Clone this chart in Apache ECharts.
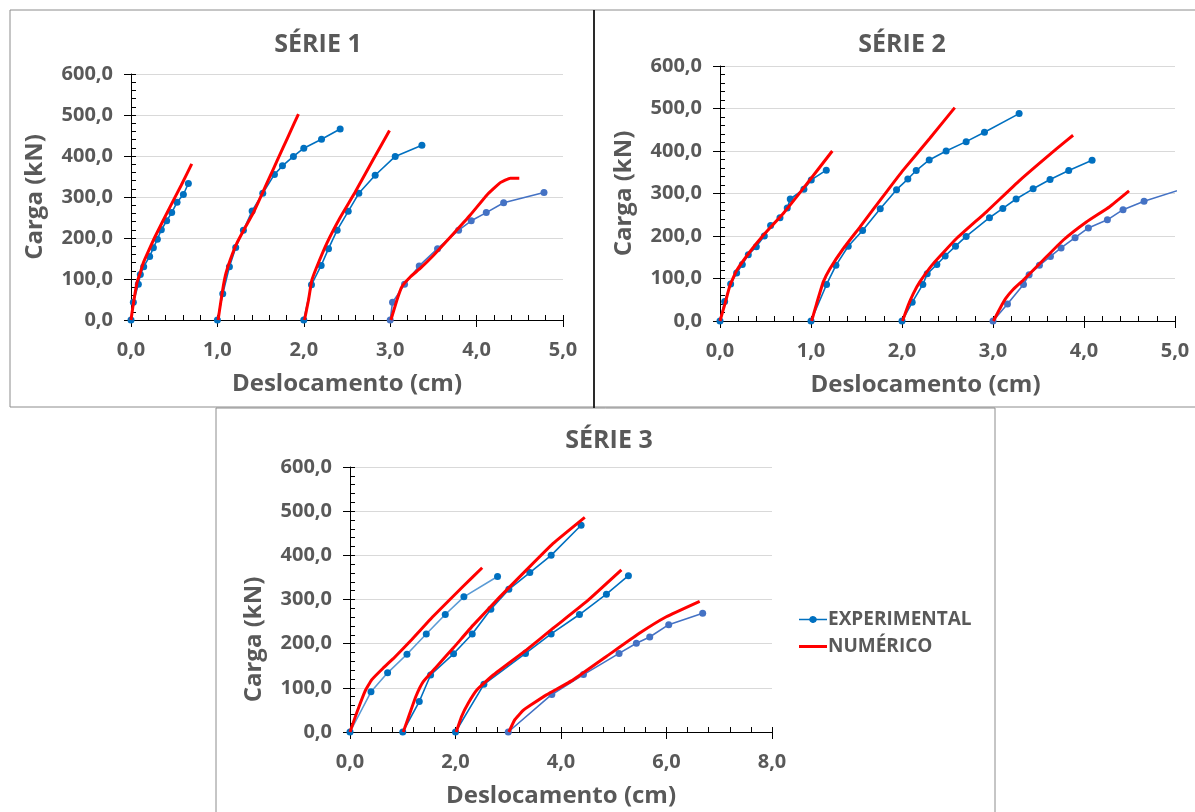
<!DOCTYPE html>
<html>
<head>
<meta charset="utf-8">
<script src="https://cdn.jsdelivr.net/npm/echarts@6/dist/echarts.min.js"></script>
<style>
html,body{margin:0;padding:0;background:#fff;}
#chart{width:1195px;height:812px;}
</style>
</head>
<body>
<div id="chart"></div>
<script>
// ---------- DATA ----------
const panelTitles = ['SÉRIE 1', 'SÉRIE 2', 'SÉRIE 3'];
const legendNames = ['EXPERIMENTAL', 'NUMÉRICO'];
const xAxisName = 'Deslocamento (cm)';
const yAxisName = 'Carga (kN)';
const xMaxs = [5, 5, 8];
const xIntervals = [1, 1, 2];
const yTicks = [0, 100, 200, 300, 400, 500, 600];

// Série 1
const s1ExpA = [[0,0],[0.027,43],[0.085,87],[0.108,111],[0.147,130],[0.216,155],[0.259,176],[0.305,197],[0.351,220],[0.413,242],[0.471,262],[0.533,287],[0.606,306],[0.664,333]];
const s1NumA = [[0,0],[0.02,30],[0.046,64],[0.07,92],[0.104,113],[0.14,138],[0.181,158],[0.278,203],[0.452,276],[0.58,328],[0.703,381]];
const s1ExpB = [[1.0,0],[1.062,64],[1.139,130],[1.212,177],[1.301,219],[1.402,266],[1.525,309],[1.660,355],[1.753,376],[1.880,399],[2.0,419],[2.205,441],[2.421,466]];
const s1NumB = [[1.008,0],[1.04,45],[1.07,85],[1.1,115],[1.147,146],[1.224,187],[1.32,225],[1.417,262],[1.52,309],[1.61,351],[1.69,388],[1.764,422],[1.85,462],[1.938,502]];
const s1ExpC = [[2.0,0],[2.089,86],[2.201,133],[2.286,174],[2.386,219],[2.514,265],[2.637,309],[2.826,353],[3.058,399],[3.367,426]];
const s1NumC = [[2.008,0],[2.054,48],[2.093,97],[2.151,130],[2.266,187],[2.421,250],[2.595,312],[2.8,390],[2.992,462]];
const s1ExpD = [[3.0,0],[3.027,43],[3.166,87],[3.336,132],[3.548,174],[3.792,219],[3.938,242],[4.112,262],[4.313,286],[4.780,311]];
const s1NumD = [[3.008,0],[3.077,48],[3.135,81],[3.232,105],[3.347,126],[3.502,158],[3.734,211],[3.927,256],[4.12,305],[4.274,335],[4.39,346],[4.494,346]];

// Série 2
const s2ExpA = [[0,0],[0.051,46],[0.117,87],[0.183,113],[0.245,133],[0.311,156],[0.399,175],[0.487,200],[0.556,225],[0.659,243],[0.739,266],[0.772,287],[0.922,310],[1.003,332],[1.168,355]];
const s2NumA = [[0,0],[0.055,41],[0.11,84],[0.183,119],[0.329,163],[0.476,202],[0.695,253],[0.915,312],[1.234,400]];
const s2ExpB = [[1.0,0],[1.171,86],[1.274,131],[1.409,176],[1.567,213],[1.761,264],[1.940,309],[2.064,334],[2.156,354],[2.299,379],[2.485,400],[2.705,422],[2.906,444],[3.287,488]];
const s2NumB = [[1.007,0],[1.062,41],[1.135,92],[1.208,123],[1.354,170],[1.537,221],[1.830,304],[2.013,355],[2.306,430],[2.58,502]];
const s2ExpC = [[2.0,0],[2.112,44],[2.229,86],[2.277,111],[2.383,133],[2.474,153],[2.588,176],[2.705,199],[2.961,243],[3.108,265],[3.254,287],[3.441,311],[3.627,333],[3.832,354],[4.089,378]];
const s2NumC = [[2.006,0],[2.068,37],[2.123,64],[2.196,92],[2.343,135],[2.599,194],[2.928,257],[3.294,331],[3.697,405],[3.88,437]];
const s2ExpD = [[3.0,0],[3.159,40],[3.335,86],[3.397,109],[3.510,131],[3.631,152],[3.748,172],[3.902,196],[4.048,219],[4.257,238],[4.429,262],[4.660,282],[5.25,322]];
const s2NumD = [[3.005,0],[3.075,29],[3.14,53],[3.221,74],[3.331,96],[3.55,143],[3.77,190],[4.026,233],[4.282,269],[4.495,306]];

// Série 3
const s3ExpA = [[0,0],[0.398,91],[0.713,134],[1.080,176],[1.446,222],[1.806,266],[2.159,306],[2.797,352]];
const s3NumA = [[0,0],[0.126,43],[0.284,92],[0.41,118],[0.631,145],[0.82,166],[1.168,209],[1.578,262],[2.146,330],[2.506,372]];
const s3ExpB = [[1.0,0],[1.313,69],[1.528,129],[1.963,177],[2.317,222],[2.670,278],[3.011,323],[3.409,361],[3.813,400],[4.381,468]];
const s3NumB = [[1.01,0],[1.136,43],[1.25,81],[1.389,114],[1.641,148],[1.957,190],[2.336,242],[2.841,306],[3.346,367],[3.851,427],[4.451,486]];
const s3ExpC = [[2.0,0],[2.538,108],[3.327,178],[3.813,222],[4.35,266],[4.861,312],[5.278,354]];
const s3NumC = [[2.014,0],[2.115,35],[2.241,65],[2.412,96],[2.715,129],[3.346,186],[3.851,235],[4.482,295],[5.145,367]];
const s3ExpD = [[3.0,0],[3.826,85],[4.426,130],[5.101,178],[5.429,201],[5.682,215],[6.042,243],[6.686,269]];
const s3NumD = [[3.011,0],[3.125,28],[3.283,49],[3.441,62],[3.725,84],[4.23,118],[4.861,171],[5.492,224],[5.997,261],[6.629,296]];

// ---------- STYLE / LAYOUT ----------
const FONT = '"Open Sans"';
const TXT = '#595959';
const grids = [
  {left: 131, top: 74, width: 432, height: 246},
  {left: 720, top: 66, width: 455, height: 255},
  {left: 350, top: 467, width: 422, height: 265}
];
const fmt = v => v.toFixed(1).replace('.', ',');

const xAxes = [], yAxes = [], series = [];
grids.forEach((g, i) => {
  xAxes.push({
    gridIndex: i, type: 'value', min: 0, max: xMaxs[i], interval: xIntervals[i],
    name: xAxisName, nameLocation: 'middle', nameGap: 52,
    nameTextStyle: {fontFamily: FONT, fontWeight: 'bold', fontSize: 24, color: TXT,
      padding: i === 1 ? [0, 44, 0, 0] : 0},
    axisLine: {onZero: false, lineStyle: {color: '#000', width: 1}},
    axisTick: {inside: true, length: 5, lineStyle: {color: '#000'}},
    minorTick: {show: true, splitNumber: 5, length: 5, lineStyle: {color: '#000'}},
    axisLabel: {formatter: fmt, margin: 20, fontFamily: FONT, fontWeight: 'bold', fontSize: 20, color: TXT},
    splitLine: {show: false}
  });
  yAxes.push({
    gridIndex: i, type: 'value', min: yTicks[0], max: yTicks[yTicks.length - 1], interval: 100,
    name: yAxisName, nameLocation: 'middle', nameGap: 84,
    nameTextStyle: {fontFamily: FONT, fontWeight: 'bold', fontSize: 24, color: TXT,
      padding: i === 2 ? [0, 80, 0, 0] : 0},
    axisLine: {show: true, onZero: false, lineStyle: {color: '#000', width: 1}},
    axisTick: {show: true, inside: true, length: 5, lineStyle: {color: '#000'}},
    minorTick: {show: true, splitNumber: 5, length: 5, lineStyle: {color: '#000'}},
    axisLabel: {formatter: fmt, margin: 18, fontFamily: FONT, fontWeight: 'bold', fontSize: 20, color: TXT},
    splitLine: {show: true, lineStyle: {color: '#d9d9d9', width: 1}}
  });
});
// overlay axes drawing only the outside half of the major ticks
grids.forEach((g, i) => {
  xAxes.push({
    gridIndex: i, type: 'value', position: 'bottom', min: 0, max: xMaxs[i], interval: xIntervals[i],
    axisLine: {show: false, onZero: false}, axisLabel: {show: false}, splitLine: {show: false},
    axisTick: {show: true, inside: false, length: 7, lineStyle: {color: '#000'}}
  });
  yAxes.push({
    gridIndex: i, type: 'value', position: 'left', min: 0, max: 600, interval: 100,
    axisLine: {show: false, onZero: false}, axisLabel: {show: false}, splitLine: {show: false},
    axisTick: {show: true, inside: false, length: 7, lineStyle: {color: '#000'}}
  });
});

function expSeries(data, gi, lineColor, dotColor) {
  return {
    name: legendNames[0], type: 'line', xAxisIndex: gi, yAxisIndex: gi, data: data,
    symbol: 'circle', symbolSize: 7, showSymbol: true,
    lineStyle: {color: lineColor, width: 1.6},
    itemStyle: {color: dotColor || lineColor},
    z: 3, animation: false
  };
}
function numSeries(data, gi) {
  return {
    name: legendNames[1], type: 'line', xAxisIndex: gi, yAxisIndex: gi, data: data,
    showSymbol: false, symbol: 'none', smooth: 0.12,
    lineStyle: {color: '#FF0000', width: 3},
    itemStyle: {color: '#FF0000'},
    z: 4, animation: false
  };
}
const BLUE = '#0070C0', BLUE2 = '#4472C4', LIGHT = '#5B9BD5';
series.push(
  expSeries(s1ExpA, 0, BLUE), expSeries(s1ExpB, 0, BLUE), expSeries(s1ExpC, 0, BLUE), expSeries(s1ExpD, 0, BLUE2),
  numSeries(s1NumA, 0), numSeries(s1NumB, 0), numSeries(s1NumC, 0), numSeries(s1NumD, 0),
  expSeries(s2ExpA, 1, BLUE), expSeries(s2ExpB, 1, BLUE), expSeries(s2ExpC, 1, BLUE), expSeries(s2ExpD, 1, BLUE2),
  numSeries(s2NumA, 1), numSeries(s2NumB, 1), numSeries(s2NumC, 1), numSeries(s2NumD, 1),
  expSeries(s3ExpA, 2, LIGHT, BLUE), expSeries(s3ExpB, 2, BLUE), expSeries(s3ExpC, 2, BLUE), expSeries(s3ExpD, 2, BLUE2),
  numSeries(s3NumA, 2), numSeries(s3NumB, 2), numSeries(s3NumC, 2), numSeries(s3NumD, 2)
);

const titleStyle = {fontFamily: FONT, fontWeight: 'bold', fontSize: 25, color: TXT};
const option = {
  backgroundColor: '#fff',
  animation: false,
  title: [
    {text: panelTitles[0], left: 313, top: 27, textAlign: 'center', textStyle: titleStyle},
    {text: panelTitles[1], left: 897, top: 27, textAlign: 'center', textStyle: titleStyle},
    {text: panelTitles[2], left: 604, top: 423, textAlign: 'center', textStyle: titleStyle}
  ],
  legend: {
    orient: 'vertical', left: 794, top: 605, itemGap: 8, itemWidth: 28, itemHeight: 13,
    data: [
      {name: legendNames[0],
       icon: 'path://M0,0 M0,5.8 L10.2,5.8 A4,4 0 0 1 17.8,5.8 L28,5.8 L28,7.2 L17.8,7.2 A4,4 0 0 1 10.2,7.2 L0,7.2 Z M28,13 L28,13',
       itemStyle: {color: BLUE}},
      {name: legendNames[1],
       icon: 'path://M0,0 M0,5 L28,5 L28,8 L0,8 Z M28,13 L28,13',
       itemStyle: {color: '#FF0000'}}
    ],
    textStyle: {fontFamily: FONT, fontWeight: 'bold', fontSize: 19, color: TXT, padding: [0,0,0,-4]}
  },
  grid: grids.map(g => Object.assign({containLabel: false}, g)),
  xAxis: xAxes,
  yAxis: yAxes,
  series: series,
  graphic: [
    {type: 'rect', shape: {x: 10, y: 10, width: 584, height: 397}, style: {fill: 'none', stroke: '#8c8c8c', lineWidth: 1}, silent: true},
    {type: 'rect', shape: {x: 594, y: 10, width: 640, height: 397}, style: {fill: 'none', stroke: '#8c8c8c', lineWidth: 1}, silent: true},
    {type: 'line', shape: {x1: 594, y1: 10, x2: 594, y2: 408}, style: {stroke: '#000', lineWidth: 1.5}, silent: true},
    {type: 'rect', shape: {x: 216, y: 408, width: 779, height: 420}, style: {fill: '#fff', stroke: '#8c8c8c', lineWidth: 1}, silent: true, z: -1}
  ]
};
const chart = echarts.init(document.getElementById('chart'), null, {renderer: 'canvas'});
chart.setOption(option);
</script>
</body>
</html>
